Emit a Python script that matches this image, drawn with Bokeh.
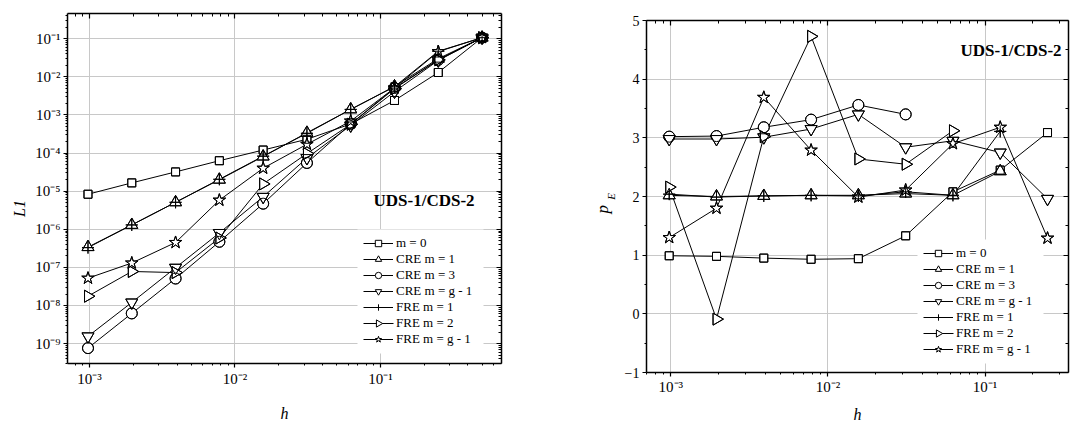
import math
from bokeh.plotting import figure
from bokeh.layouts import row, column
from bokeh.models import (Range1d, FixedTicker, CustomJSTickFormatter, LogAxis,
                          LinearAxis, Legend, LegendItem, Label, BoxAnnotation)
from bokeh.embed import file_html
from bokeh.resources import INLINE

FONT = "Liberation Serif"

# ---------------- data: left panel, L1 error vs h ----------------
h_l1 = [0.0009765625, 0.001953125, 0.00390625, 0.0078125, 0.015625,
        0.03125, 0.0625, 0.125, 0.25, 0.5]
l1_m0   = [8.3e-6, 1.65e-5, 3.2e-5, 6.3e-5, 1.2e-4, 2.3e-4, 5.8e-4, 2.4e-3, 1.3e-2, 0.107]
l1_cre1 = [3.4e-7, 1.3e-6, 5.1e-6, 2.0e-5, 8.1e-5, 3.4e-4, 1.4e-3, 5.6e-3, 3.0e-2, 0.107]
l1_cre3 = [7.6e-10, 6.2e-9, 5.1e-8, 4.7e-7, 4.7e-6, 5.5e-5, 5.8e-4, 5.1e-3, 2.8e-2, 0.107]
l1_creg = [1.55e-9, 1.2e-8, 9.8e-8, 8.0e-7, 7.1e-6, 7.4e-5, 5.3e-4, 4.1e-3, 2.7e-2, 0.107]
l1_fre1 = [3.3e-7, 1.3e-6, 5.1e-6, 2.05e-5, 8.3e-5, 3.3e-4, 1.4e-3, 5.5e-3, 4.7e-2, 0.107]
l1_fre2 = [1.75e-8, 7.8e-8, 7.3e-8, 5.9e-7, 1.55e-5, 9.7e-5, 5.7e-4, 4.9e-3, 2.8e-2, 0.107]
l1_freg = [5.2e-8, 1.3e-7, 4.5e-7, 5.8e-6, 4.0e-5, 1.7e-4, 6.9e-4, 5.1e-3, 4.6e-2, 0.107]

# ---------------- data: right panel, effective order p_E vs h ----------------
h_pe = [0.0009765625, 0.001953125, 0.00390625, 0.0078125, 0.015625,
        0.03125, 0.0625, 0.125, 0.25]
pe_m0   = [0.99, 0.98, 0.95, 0.93, 0.94, 1.33, 2.08, 2.45, 3.09]
pe_cre1 = [2.02, 2.00, 2.01, 2.02, 2.02, 2.05, 2.02, 2.43]
pe_cre3 = [3.02, 3.03, 3.18, 3.31, 3.56, 3.40]
pe_creg = [2.98, 2.98, 3.01, 3.15, 3.40, 2.84, 2.95, 2.75, 1.96]
pe_fre1 = [2.04, 1.99, 2.01, 2.02, 2.01, 2.08, 2.02, 3.11]
pe_fre2 = [2.16, -0.09, 3.02, 4.73, 2.64, 2.55, 3.12]
pe_freg = [1.30, 1.80, 3.69, 2.79, 1.99, 2.11, 2.90, 3.18, 1.29]

labels = ["m = 0", "CRE m = 1", "CRE m = 3", "CRE m = g - 1",
          "FRE m = 1", "FRE m = 2", "FRE m = g - 1"]
markers = [("square", 8, 0.0), ("triangle", 12, 0.0), ("circle", 11, 0.0),
           ("inverted_triangle", 12, 0.0), ("cross", 12, 0.0),
           ("triangle", 12, -math.pi / 2), ("star", 13, 0.0)]
ROTATED = 5  # index of the right-pointing triangle series

title_text = "UDS-1/CDS-2"
decade_ticks_x = [1e-3, 1e-2, 1e-1]
decade_ticks_y = [1e-9, 1e-8, 1e-7, 1e-6, 1e-5, 1e-4, 1e-3, 1e-2, 1e-1]
pe_ticks = [-1, 0, 1, 2, 3, 4, 5]
pe_minor = [-0.5, 0.5, 1.5, 2.5, 3.5, 4.5]

# legend geometry (pixels)
LEG_PAD, LEG_ROW, LEG_GW, LEG_W = 6, 16, 30, 126


def log_minor(lo, hi):
    out = []
    for e in range(lo, hi + 1):
        for k in range(2, 10):
            out.append(k * 10.0 ** e)
    return out


LOG_FMT_JS = """
const sup = {"-": "\u207b", "0": "\u2070", "1": "\u00b9", "2": "\u00b2", "3": "\u00b3",
             "4": "\u2074", "5": "\u2075", "6": "\u2076", "7": "\u2077", "8": "\u2078", "9": "\u2079"};
const e = Math.round(Math.log10(tick));
let s = "";
for (const c of String(e)) { s += sup[c]; }
return "10" + s;
"""


def style_axis(ax, show_labels=True, inward=False, size="15px"):
    ax.axis_line_width = 1.5
    ax.axis_line_color = "black"
    ax.major_tick_line_color = "black"
    ax.minor_tick_line_color = "black"
    ax.major_tick_line_width = 1.2
    if inward:
        ax.major_tick_in, ax.major_tick_out = 5, 0
        ax.minor_tick_in, ax.minor_tick_out = 3, 0
    else:
        ax.major_tick_in, ax.major_tick_out = 0, 4
        ax.minor_tick_in, ax.minor_tick_out = 0, 2
    ax.major_label_text_font = FONT
    ax.major_label_text_font_size = size
    ax.major_label_text_color = "black"
    ax.major_label_standoff = 3
    ax.axis_label_text_font = FONT
    ax.axis_label_text_font_size = "16px"
    ax.axis_label_text_font_style = "italic"
    ax.axis_label_text_color = "black"
    ax.axis_label_standoff = 4
    if not show_labels:
        ax.formatter = CustomJSTickFormatter(code="return '';")
        ax.major_label_standoff = 0


def draw_series(p, xs, ys_list):
    lines, fills = [], []
    for ys in ys_list:
        lines.append(p.line(xs[:len(ys)], ys, line_color="black", line_width=1))
    for ys, (mk, sz, ang) in zip(ys_list, markers):
        fills.append(p.scatter(xs[:len(ys)], ys, marker=mk, size=sz, angle=ang,
                               line_color="black", line_width=1, fill_color="white"))
    for ys, (mk, sz, ang) in zip(ys_list, markers):
        p.scatter(xs[:len(ys)], ys, marker=mk, size=sz, angle=ang,
                  line_color="black", line_width=1, fill_alpha=0)
    # invisible stand-in for the rotated-marker item (its icon is drawn by hand)
    blank = p.line([], [], line_alpha=0)
    items = []
    for i, (lab, l, f) in enumerate(zip(labels, lines, fills)):
        rs = [blank] if i == ROTATED else [l, f]
        items.append(LegendItem(label=lab, renderers=rs))
    return items


def px_to_data(frac, lo, hi, is_log):
    if is_log:
        return 10 ** (math.log10(lo) + frac * (math.log10(hi) - math.log10(lo)))
    return lo + frac * (hi - lo)


def add_legend(p, items, loc, fw, fh, xlog, ylog):
    n = len(labels)
    leg_h = 2 * LEG_PAD + n * LEG_ROW
    # white panel behind the (transparent) legend hides the grid lines only
    p.add_layout(BoxAnnotation(left=loc[0], right=loc[0] + LEG_W,
                               bottom=loc[1], top=loc[1] + leg_h,
                               left_units="screen", right_units="screen",
                               bottom_units="screen", top_units="screen",
                               fill_color="white", fill_alpha=1, line_alpha=0,
                               level="underlay"))
    p.add_layout(Legend(items=items, location=loc, background_fill_alpha=0,
                        border_line_alpha=0,
                        label_text_font=FONT, label_text_font_size="13px",
                        label_text_color="black",
                        glyph_width=LEG_GW, glyph_height=LEG_ROW, label_height=LEG_ROW,
                        spacing=0, padding=LEG_PAD, margin=0, label_standoff=3))
    # legend icon for the right-pointing triangle (legend glyphs ignore marker angle)
    n_below = n - 1 - ROTATED
    cx = loc[0] + LEG_PAD + LEG_GW / 2
    cy = loc[1] + LEG_PAD + LEG_ROW * n_below + LEG_ROW / 2
    xr, yr = p.x_range, p.y_range
    xa = px_to_data((cx - LEG_GW / 2) / fw, xr.start, xr.end, xlog)
    xb = px_to_data((cx + LEG_GW / 2) / fw, xr.start, xr.end, xlog)
    xc = px_to_data(cx / fw, xr.start, xr.end, xlog)
    yc = px_to_data(cy / fh, yr.start, yr.end, ylog)
    p.line([xa, xb], [yc, yc], line_color="black", line_width=1)
    mk, sz, ang = markers[ROTATED]
    p.scatter([xc], [yc], marker=mk, size=0.45 * LEG_ROW, angle=ang,
              line_color="black", line_width=1, fill_color="white")


# ---------------- left panel ----------------
W1, H1, L1B, R1B, T1B, B1B = 540, 425, 67, 39, 13, 62
p1 = figure(width=W1, height=H1, x_axis_type="log", y_axis_type="log",
            x_range=Range1d(7.06e-4, 0.68), y_range=Range1d(3.0e-10, 0.46),
            output_backend="svg", toolbar_location=None,
            min_border_left=L1B, min_border_right=R1B, min_border_top=T1B, min_border_bottom=B1B)
p1.outline_line_color = None
xt1 = FixedTicker(ticks=decade_ticks_x, minor_ticks=log_minor(-4, -1))
yt1 = FixedTicker(ticks=decade_ticks_y, minor_ticks=log_minor(-10, -1))
p1.xaxis.ticker = xt1
p1.yaxis.ticker = yt1
p1.xaxis.formatter = CustomJSTickFormatter(code=LOG_FMT_JS)
p1.yaxis.formatter = CustomJSTickFormatter(code=LOG_FMT_JS)
p1.xaxis.axis_label = "h"
p1.yaxis.axis_label = "L1\u2007\u2007\u2007\u2007\u2007"
style_axis(p1.xaxis[0])
style_axis(p1.yaxis[0])
p1.xaxis.axis_label_standoff = 15
p1.xgrid.ticker = xt1
p1.ygrid.ticker = yt1
for g in (p1.xgrid[0], p1.ygrid[0]):
    g.grid_line_color = "#c8c8c8"
    g.grid_line_width = 1
ax_top = LogAxis(ticker=xt1)
style_axis(ax_top, show_labels=False, inward=True)
p1.add_layout(ax_top, "above")
ax_right = LogAxis(ticker=yt1)
style_axis(ax_right, show_labels=False, inward=True)
p1.add_layout(ax_right, "right")

items1 = draw_series(p1, h_l1, [l1_m0, l1_cre1, l1_cre3, l1_creg, l1_fre1, l1_fre2, l1_freg])
add_legend(p1, items1, (290, 10), W1 - L1B - R1B, H1 - T1B - B1B, True, True)
p1.add_layout(Label(x=306, y=163, x_units="screen", y_units="screen", text=title_text,
                    text_font=FONT, text_font_size="17px", text_font_style="bold",
                    text_color="black", text_baseline="middle"))

# ---------------- right panel ----------------
W2, H2, L2B, R2B, T2B, B2B = 530, 425, 106, 2, 20, 53
p2 = figure(width=W2, height=H2, x_axis_type="log",
            x_range=Range1d(7.0e-4, 0.34), y_range=Range1d(-1, 5),
            output_backend="svg", toolbar_location=None,
            min_border_left=L2B, min_border_right=R2B, min_border_top=T2B, min_border_bottom=B2B)
p2.outline_line_color = None
xt2 = FixedTicker(ticks=decade_ticks_x, minor_ticks=log_minor(-4, -1))
yt2 = FixedTicker(ticks=pe_ticks, minor_ticks=pe_minor)
p2.xaxis.ticker = xt2
p2.yaxis.ticker = yt2
p2.xaxis.formatter = CustomJSTickFormatter(code=LOG_FMT_JS)
p2.xaxis.axis_label = "h"
style_axis(p2.xaxis[0])
style_axis(p2.yaxis[0], size="14px")
p2.xaxis.major_label_standoff = 2
p2.xaxis.axis_label_standoff = 8
# y label "p" with subscript "E": E on the inner axis, p on an outer, tick-less axis
p2.yaxis.axis_label = "E"
p2.yaxis.axis_label_text_font_size = "11px"
p2.yaxis.axis_label_standoff = 5
ax_p = LinearAxis(ticker=FixedTicker(ticks=[]), axis_label="p\u2007\u2007\u2007")
style_axis(ax_p, show_labels=False)
ax_p.axis_line_color = None
ax_p.major_tick_out = 0
ax_p.minor_tick_out = 0
ax_p.axis_label_text_font_size = "17px"
ax_p.axis_label_standoff = -10
p2.add_layout(ax_p, "left")
p2.xgrid.ticker = xt2
p2.ygrid.ticker = yt2
for g in (p2.xgrid[0], p2.ygrid[0]):
    g.grid_line_color = "#c8c8c8"
    g.grid_line_width = 1
ax_top2 = LogAxis(ticker=xt2)
style_axis(ax_top2, show_labels=False, inward=True)
p2.add_layout(ax_top2, "above")
ax_right2 = LinearAxis(ticker=yt2)
style_axis(ax_right2, show_labels=False, inward=True)
p2.add_layout(ax_right2, "right")

items2 = draw_series(p2, h_pe, [pe_m0, pe_cre1, pe_cre3, pe_creg, pe_fre1, pe_fre2, pe_freg])
add_legend(p2, items2, (271, 9), W2 - L2B - R2B, H2 - T2B - B2B, True, False)
p2.add_layout(Label(x=314, y=322, x_units="screen", y_units="screen", text=title_text,
                    text_font=FONT, text_font_size="17px", text_font_style="bold",
                    text_color="black", text_baseline="middle"))

# wrap each panel separately so the row does not align the two plot frames
layout = row(column(p1), column(p2))
open("out.html", "w").write(file_html(layout, INLINE))
